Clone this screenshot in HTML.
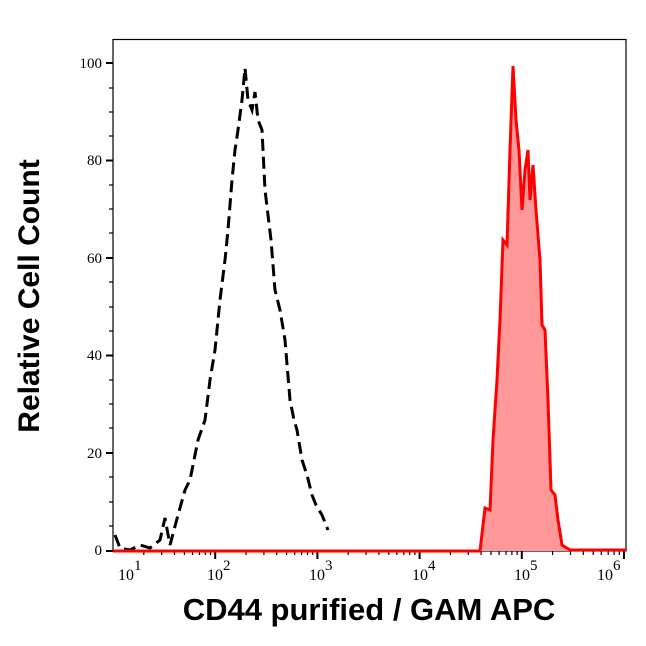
<!DOCTYPE html>
<html><head><style>body{margin:0;background:#fff}</style></head><body>
<svg width="646" height="641" xmlns="http://www.w3.org/2000/svg" font-family="Liberation Serif, serif">
<rect x="113" y="39.5" width="513" height="511.5" fill="none" stroke="#000" stroke-width="1.2"/>
<g stroke="#000" stroke-width="1.2">
<line x1="106" y1="551" x2="113" y2="551" stroke-width="2"/><line x1="106" y1="453" x2="113" y2="453" stroke-width="2"/><line x1="106" y1="355.5" x2="113" y2="355.5" stroke-width="2"/><line x1="106" y1="258" x2="113" y2="258" stroke-width="2"/><line x1="106" y1="160.5" x2="113" y2="160.5" stroke-width="2"/><line x1="106" y1="63" x2="113" y2="63" stroke-width="2"/>
<line x1="109" y1="502" x2="113" y2="502"/><line x1="109" y1="404" x2="113" y2="404"/><line x1="109" y1="307" x2="113" y2="307"/><line x1="109" y1="209" x2="113" y2="209"/><line x1="109" y1="112" x2="113" y2="112"/>
<line x1="109" y1="526" x2="113" y2="526"/><line x1="109" y1="477" x2="113" y2="477"/><line x1="109" y1="428" x2="113" y2="428"/><line x1="109" y1="380" x2="113" y2="380"/><line x1="109" y1="331" x2="113" y2="331"/><line x1="109" y1="282" x2="113" y2="282"/><line x1="109" y1="233" x2="113" y2="233"/><line x1="109" y1="185" x2="113" y2="185"/><line x1="109" y1="136" x2="113" y2="136"/><line x1="109" y1="88" x2="113" y2="88"/>
</g>
<path stroke="#000" stroke-width="2" d="M215.2 551v8M317.4 551v8M419.6 551v8M521.8 551v8M624 551v8"/>
<path stroke="#000" stroke-width="1.2" d="M143.8 551v4M161.7 551v4M174.5 551v4M184.4 551v4M192.5 551v4M199.4 551v4M205.3 551v4M210.5 551v4M246 551v4M263.9 551v4M276.7 551v4M286.6 551v4M294.7 551v4M301.6 551v4M307.5 551v4M312.7 551v4M348.2 551v4M366.1 551v4M378.9 551v4M388.8 551v4M396.9 551v4M403.8 551v4M409.7 551v4M414.9 551v4M450.4 551v4M468.3 551v4M481.1 551v4M491 551v4M499.1 551v4M506 551v4M511.9 551v4M517.1 551v4M552.6 551v4M570.5 551v4M583.3 551v4M593.2 551v4M601.3 551v4M608.2 551v4M614.1 551v4M619.3 551v4"/>
<g font-size="15" text-anchor="end">
<text x="102" y="555">0</text><text x="102" y="458">20</text><text x="102" y="360">40</text><text x="102" y="263">60</text><text x="102" y="165">80</text><text x="102" y="68">100</text>
</g>
<g font-size="16">
<text x="118" y="580">10<tspan dy="-10" font-size="15">1</tspan></text>
<text x="207" y="580">10<tspan dy="-10" font-size="15">2</tspan></text>
<text x="309" y="580">10<tspan dy="-10" font-size="15">3</tspan></text>
<text x="412" y="580">10<tspan dy="-10" font-size="15">4</tspan></text>
<text x="514" y="580">10<tspan dy="-10" font-size="15">5</tspan></text>
<text x="597" y="580">10<tspan dy="-10" font-size="15">6</tspan></text>
</g>
<polygon fill="#ff9999" points="480,551 485,508 490,510 493,440 497,380 500,320 503,240 507,245 510,150 513,66 516,120 519,150 522,210 525,170 528,150 530,200 533,165 536,210 540,260 542,325 545,330 548,400 551,490 555,495 558,520 562,545 570,551"/>
<polyline fill="none" stroke="#000" stroke-width="3" stroke-dasharray="12,6" points="115,535 120,548 130,550 140,545 150,548 160,540 165,518 170,545 178,515 185,490 190,480 198,440 205,420 210,380 215,350 220,300 225,260 228,230 232,180 235,150 238,130 242,100 245,68 248,100 252,110 255,92 258,120 262,130 265,190 268,215 271,240 275,290 280,310 285,340 290,400 294,420 297,430 302,460 307,475 312,495 316,505 322,515 328,530"/>
<polyline fill="none" stroke="#ff0000" stroke-width="3" points="113,551 480,551 485,508 490,510 493,440 497,380 500,320 503,240 507,245 510,150 513,66 516,120 519,150 522,210 525,170 528,150 530,200 533,165 536,210 540,260 542,325 545,330 548,400 551,490 555,495 558,520 562,545 570,550 626,550"/>
<text x="39" y="296" font-family="Liberation Sans, sans-serif" font-weight="bold" font-size="30" text-anchor="middle" transform="rotate(-90 39 296)">Relative Cell Count</text>
<text x="369" y="620" font-family="Liberation Sans, sans-serif" font-weight="bold" font-size="31" text-anchor="middle">CD44 purified / GAM APC</text>
</svg>
</body></html>
